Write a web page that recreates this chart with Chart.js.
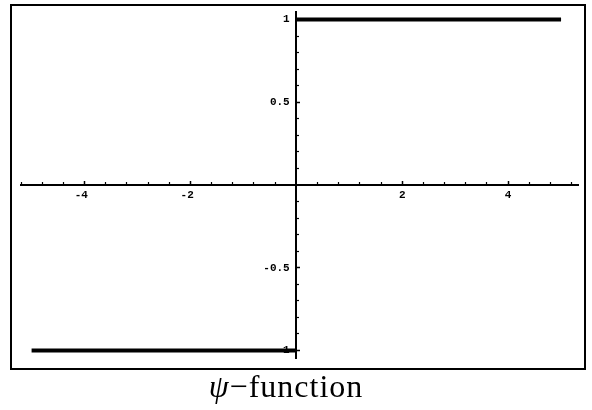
<!DOCTYPE html>
<html><head><meta charset="utf-8">
<script src="https://cdn.jsdelivr.net/npm/chart.js@4/dist/chart.umd.min.js"></script>
<style>
html,body{margin:0;padding:0;background:#fff;}
#wrap{position:relative;width:592px;height:410px;overflow:hidden;}
#frame{position:absolute;left:10px;top:4px;width:572px;height:362px;border:2px solid #000;}
canvas{position:absolute;left:0;top:0;}
#caption{position:absolute;left:0;width:572px;top:368px;text-align:center;font-family:"Liberation Serif","Times New Roman",serif;font-size:32px;letter-spacing:1px;color:#000;white-space:nowrap;}
</style></head>
<body><div id="wrap"><div id="frame"></div><canvas id="c" width="592" height="410"></canvas><div id="caption"><i>ψ</i>−function</div></div>
<script>
// data: psi step function
const xLeft = [-5, 0];
const yLeft = [-1, -1];
const xRight = [0, 5];
const yRight = [1, 1];
// axes
const xRange = [-5.2, 5.32];
const yRange = [-1.045, 1.045];
const xMajor = [-4, -2, 2, 4];
const xMajorLabels = ['-4 ', '-2 ', '2', '4'];
const yMajor = [-1, -0.5, 0.5, 1];
const yMajorLabels = ['-1', '-0.5', '0.5', '1'];
const xMinorStep = 0.4;
const yMinorStep = 0.1;

function minorTicks(min, max, step, skip) {
  const out = [];
  for (let k = Math.ceil(min / step); k * step <= max + 1e-9; k++) {
    const v = +(k * step).toFixed(6);
    if (Math.abs(v) < 1e-9) continue;
    if (skip.some(s => Math.abs(s - v) < 1e-6)) continue;
    out.push(v);
  }
  return out;
}
const xMinor = minorTicks(xRange[0], xRange[1], xMinorStep, xMajor);
const yMinor = minorTicks(yRange[0], yRange[1], yMinorStep, yMajor);

const zeroFit = s => {
  if (s.isHorizontal()) s.height = 0; else s.width = 0;
  s.paddingTop = s.paddingBottom = s.paddingLeft = s.paddingRight = 0;
};
const tickFont = { family: 'Liberation Mono', size: 11, weight: 'bold' };

function pts(xs, ys) { return xs.map((x, i) => ({ x, y: ys[i] })); }

new Chart(document.getElementById('c'), {
  type: 'scatter',
  data: {
    datasets: [
      { data: pts(xLeft, yLeft), showLine: true, borderColor: '#000', borderWidth: 4, pointRadius: 0, borderCapStyle: 'butt', xAxisID: 'x', yAxisID: 'y' },
      { data: pts(xRight, yRight), showLine: true, borderColor: '#000', borderWidth: 4, pointRadius: 0, borderCapStyle: 'butt', xAxisID: 'x', yAxisID: 'y' }
    ]
  },
  options: {
    responsive: false,
    animation: false,
    devicePixelRatio: 1,
    layout: { padding: { left: 21, right: 14, top: 12, bottom: 52 } },
    plugins: { legend: { display: false }, tooltip: { enabled: false } },
    scales: {
      x: {
        type: 'linear', min: xRange[0], max: xRange[1], position: { y: 0 },
        afterBuildTicks: s => { s.ticks = xMajor.map(v => ({ value: v })); },
        afterFit: zeroFit,
        ticks: { callback: v => xMajorLabels[xMajor.indexOf(v)], font: tickFont, color: '#000', padding: 9, maxRotation: 0, autoSkip: false },
        grid: { drawOnChartArea: false, tickLength: -5, tickWidth: 1.5, tickColor: '#000' },
        border: { display: true, color: '#000', width: 2 }
      },
      x2: {
        type: 'linear', axis: 'x', min: xRange[0], max: xRange[1], position: { y: 0 },
        afterBuildTicks: s => { s.ticks = xMinor.map(v => ({ value: v })); },
        afterFit: zeroFit,
        ticks: { display: false },
        grid: { drawOnChartArea: false, tickLength: -3, tickWidth: 1.2, tickColor: '#000' },
        border: { display: false }
      },
      y: {
        type: 'linear', min: yRange[0], max: yRange[1], position: { x: 0 },
        afterBuildTicks: s => { s.ticks = yMajor.map(v => ({ value: v })); },
        afterFit: zeroFit,
        ticks: { callback: v => yMajorLabels[yMajor.indexOf(v)] + ' ', font: tickFont, color: '#000', padding: 0, autoSkip: false },
        grid: { drawOnChartArea: false, tickLength: -5, tickWidth: 1.5, tickColor: '#000' },
        border: { display: true, color: '#000', width: 2 }
      },
      y2: {
        type: 'linear', axis: 'y', min: yRange[0], max: yRange[1], position: { x: 0 },
        afterBuildTicks: s => { s.ticks = yMinor.map(v => ({ value: v })); },
        afterFit: zeroFit,
        ticks: { display: false },
        grid: { drawOnChartArea: false, tickLength: -3, tickWidth: 1.2, tickColor: '#000' },
        border: { display: false }
      }
    }
  }
});
</script>
</body></html>
